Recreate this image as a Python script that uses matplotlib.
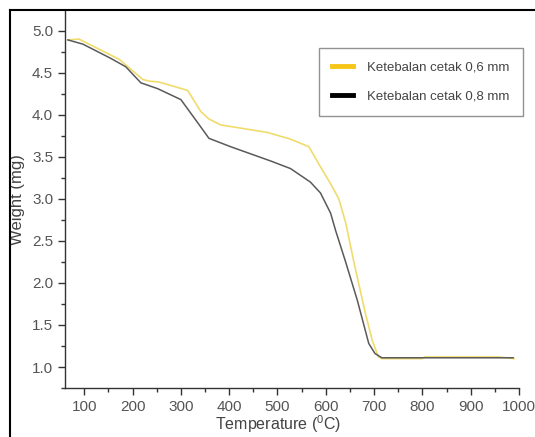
import numpy as np
import matplotlib.pyplot as plt
from matplotlib.lines import Line2D
from matplotlib.ticker import MultipleLocator

plt.rcParams['font.family'] = ['Liberation Sans', 'DejaVu Sans']

# ketebalan cetak 0,6 mm
temp_06 = [66, 89, 134, 172, 221, 234, 254, 314, 341, 358, 382, 403, 479,
           527, 565, 589, 610, 627, 641, 660, 682, 696, 709, 716, 760, 800,
           805, 957, 990]
weight_06 = [4.89, 4.90, 4.77, 4.66, 4.42, 4.40, 4.39, 4.29, 4.04, 3.95, 3.88,
             3.86, 3.79, 3.71, 3.62, 3.38, 3.18, 3.00, 2.72, 2.20, 1.64, 1.32,
             1.12, 1.10, 1.10, 1.10, 1.12, 1.12, 1.10]

# ketebalan cetak 0,8 mm
temp_08 = [66, 97, 155, 186, 217, 252, 300, 338, 358, 403, 486, 527, 568,
           589, 610, 620, 640, 665, 689, 702, 716, 760, 988]
weight_08 = [4.89, 4.84, 4.67, 4.57, 4.38, 4.31, 4.18, 3.88, 3.72, 3.62, 3.45,
             3.36, 3.20, 3.07, 2.83, 2.63, 2.27, 1.80, 1.28, 1.16, 1.11, 1.11,
             1.11]

labels = ['Ketebalan cetak 0,6 mm', 'Ketebalan cetak 0,8 mm']

fig = plt.figure(figsize=(5.35, 4.37), dpi=100)
ax = fig.add_axes([0.1215, 0.112, 0.8485, 0.864])

ax.plot(temp_06, weight_06, color='#f0dc6c', lw=1.2)
ax.plot(temp_08, weight_08, color='#5a5a5a', lw=1.1)

ax.set_xlim(60, 1000)
ax.set_ylim(0.75, 5.24)
ax.xaxis.set_major_locator(MultipleLocator(100))
ax.xaxis.set_minor_locator(MultipleLocator(50))
ax.yaxis.set_major_locator(MultipleLocator(0.5))
ax.yaxis.set_minor_locator(MultipleLocator(0.25))
ax.yaxis.set_major_formatter(plt.FormatStrFormatter('%.1f'))

for s in ['top', 'right']:
    ax.spines[s].set_visible(False)
for s in ['left', 'bottom']:
    ax.spines[s].set_color('#333333')
    ax.spines[s].set_linewidth(1.0)

ax.tick_params(which='major', length=5, width=1, color='#333333',
               labelsize=11, labelcolor='#555555')
ax.tick_params(which='minor', length=3, width=1, color='#333333')

ax.set_xlabel('Temperature ($^{\\mathregular{0}}$C)', fontsize=11.5,
              color='#444444')
ax.xaxis.set_label_coords(0.469, -0.068)
ax.set_ylabel('Weight (mg)', fontsize=12, color='#444444', labelpad=5)

handles = [Line2D([], [], color='#f5c518', lw=3.5),
           Line2D([], [], color='#000000', lw=3.5)]
leg = ax.legend(handles, labels, loc='upper right',
                bbox_to_anchor=(1.009, 0.9007), borderaxespad=0,
                fontsize=9.5, frameon=True, fancybox=False,
                edgecolor='#777777', handlelength=1.6, handletextpad=1.1,
                labelspacing=1.3, borderpad=1.0, labelcolor='#444444')
leg.get_frame().set_linewidth(1.0)

# bingkai gambar
fig.add_artist(Line2D([10 / 535, 1.0], [0.976, 0.976], color='black',
                      lw=1.5, transform=fig.transFigure))
fig.add_artist(Line2D([10 / 535, 10 / 535], [0.0, 0.976], color='black',
                      lw=1.5, transform=fig.transFigure))

fig.savefig('out.png', dpi=100)
